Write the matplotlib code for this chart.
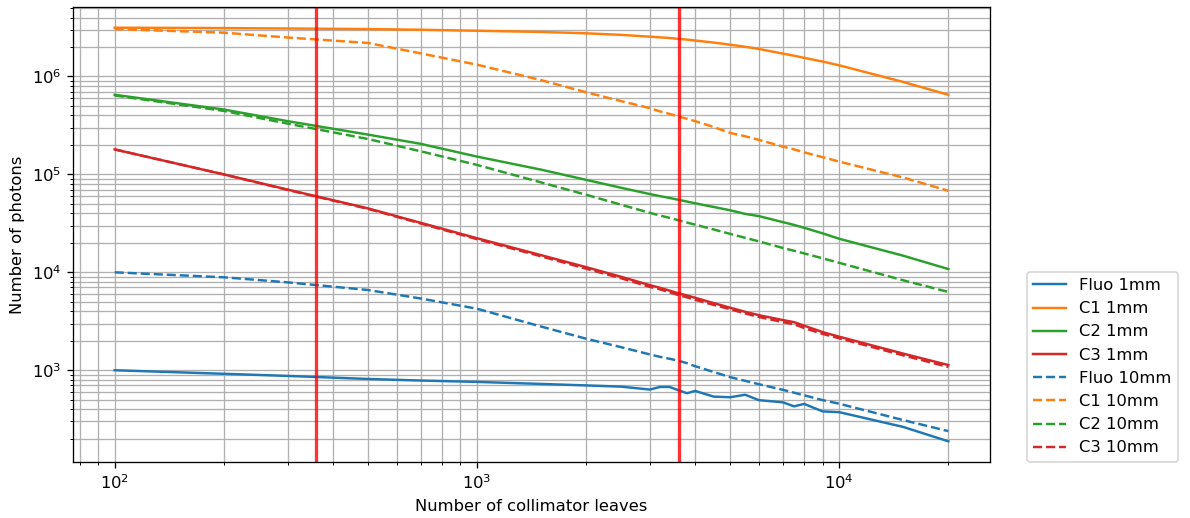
import matplotlib
matplotlib.use("Agg")
import matplotlib.pyplot as plt

# Number of collimator leaves (common sampling for all series)
leaves = [100, 200, 300, 500, 700, 1000, 1500, 2000, 2500, 3000, 3200, 3400,
          3600, 3800, 4000, 4500, 5000, 5500, 6000, 7000, 7500, 8000, 9000,
          10000, 15000, 20000]

# Photon counts, 1 mm thickness
fluo_1mm = [1000, 920, 875, 815, 785, 760, 725, 700, 680, 635, 675, 675,
            625, 582, 615, 538, 530, 562, 495, 470, 428, 453, 380,
            373, 264, 188]
c1_1mm = [3.15e6, 3.12e6, 3.09e6, 3.05e6, 3.00e6, 2.93e6, 2.85e6, 2.76e6,
          2.66e6, 2.55e6, 2.51e6, 2.47e6, 2.42e6, 2.38e6, 2.33e6, 2.22e6,
          2.11e6, 2.01e6, 1.91e6, 1.71e6, 1.63e6, 1.55e6, 1.42e6, 1.30e6,
          0.88e6, 6.5e5]
c2_1mm = [6.5e5, 4.6e5, 3.5e5, 2.55e5, 2.05e5, 1.52e5, 1.12e5, 8.8e4, 7.3e4,
          6.3e4, 6.0e4, 5.75e4, 5.5e4, 5.28e4, 5.07e4, 4.65e4, 4.3e4, 3.95e4,
          3.75e4, 3.25e4, 3.05e4, 2.85e4, 2.5e4, 2.2e4, 1.48e4, 1.08e4]
c3_1mm = [1.8e5, 1.0e5, 7.0e4, 4.5e4, 3.2e4, 2.23e4, 1.5e4, 1.13e4, 9.0e3,
          7.4e3, 6.95e3, 6.5e3, 6.1e3, 5.8e3, 5.5e3, 4.85e3, 4.35e3, 3.95e3,
          3.65e3, 3.25e3, 3.1e3, 2.85e3, 2.45e3, 2.2e3, 1.48e3, 1.13e3]

# Photon counts, 10 mm thickness
fluo_10mm = [10000, 8900, 7900, 6600, 5400, 4250, 2800, 2100, 1720, 1450,
             1370, 1310, 1250, 1180, 1100, 960, 850, 780, 720, 630, 590, 555,
             495, 455, 310, 239]
c1_10mm = [3.05e6, 2.8e6, 2.5e6, 2.2e6, 1.72e6, 1.32e6, 9.2e5, 6.9e5, 5.6e5,
           4.75e5, 4.4e5, 4.15e5, 3.9e5, 3.7e5, 3.5e5, 3.05e5, 2.65e5, 2.45e5,
           2.25e5, 1.92e5, 1.8e5, 1.68e5, 1.5e5, 1.35e5, 9.3e4, 6.8e4]
c2_10mm = [6.4e5, 4.45e5, 3.3e5, 2.3e5, 1.72e5, 1.25e5, 8.3e4, 6.2e4, 4.9e4,
           4.05e4, 3.8e4, 3.6e4, 3.4e4, 3.22e4, 3.07e4, 2.74e4, 2.47e4,
           2.25e4, 2.07e4, 1.77e4, 1.66e4, 1.56e4, 1.39e4, 1.25e4, 8.3e3,
           6.3e3]
c3_10mm = [1.8e5, 1.0e5, 6.95e4, 4.45e4, 3.15e4, 2.18e4, 1.46e4, 1.09e4,
           8.7e3, 7.1e3, 6.7e3, 6.25e3, 5.85e3, 5.55e3, 5.25e3, 4.65e3, 4.2e3,
           3.8e3, 3.5e3, 3.1e3, 2.95e3, 2.7e3, 2.35e3, 2.12e3, 1.42e3, 1.08e3]

# Reference leaf counts marked with vertical lines
marker_leaves = [360, 3600]

series = [
    ("Fluo 1mm", fluo_1mm, "-", "C0"),
    ("C1 1mm", c1_1mm, "-", "C1"),
    ("C2 1mm", c2_1mm, "-", "C2"),
    ("C3 1mm", c3_1mm, "-", "C3"),
    ("Fluo 10mm", fluo_10mm, "--", "C0"),
    ("C1 10mm", c1_10mm, "--", "C1"),
    ("C2 10mm", c2_10mm, "--", "C2"),
    ("C3 10mm", c3_10mm, "--", "C3"),
]

DPI = 118
W, H = 1190, 518
fig = plt.figure(figsize=(W / DPI, H / DPI), dpi=DPI)
ax = fig.add_axes([73 / W, 1 - 462 / H, 917 / W, 455 / H])

for label, values, style, color in series:
    ax.plot(leaves, values, linestyle=style, color=color, label=label)

for m in marker_leaves:
    ax.axvline(m, color="red", alpha=0.8, linewidth=2)

ax.set_xscale("log")
ax.set_yscale("log")
ax.grid(True, which="both")
ax.set_xlabel("Number of collimator leaves")
ax.set_ylabel("Number of photons")
ax.legend(loc="lower left", bbox_to_anchor=(1.04, 0), borderaxespad=0)

fig.savefig("out.png", dpi=DPI)
